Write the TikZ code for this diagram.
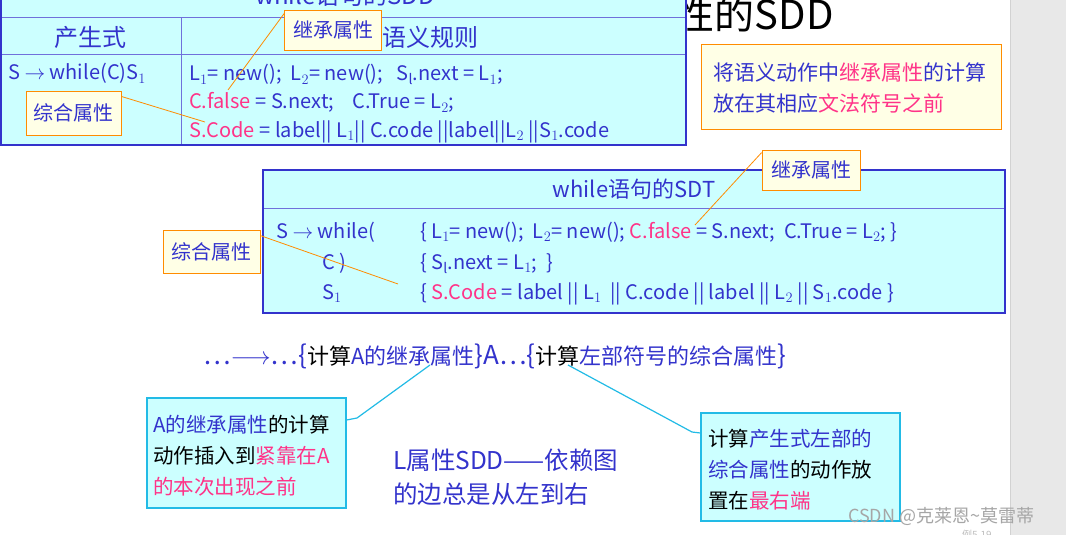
\documentclass[tikz,border=0pt]{standalone}
\usepackage{fontspec}
\setmainfont{Noto Sans CJK SC}
\begin{document}
\begin{tikzpicture}[x=1pt,y=-1pt,
  txt/.style={inner sep=0pt,anchor=base west,font=\fontsize{20}{24}\selectfont,text=tblue},
  obox/.style={draw=orange!90!yellow,fill=yel,line width=0.8pt,inner sep=0pt},
  olink/.style={draw=orange!90!yellow,line width=0.8pt},
  cbox/.style={draw=cyanb,fill=cyanf,line width=1.2pt},
  clink/.style={draw=cyanb,line width=1.2pt}]
\definecolor{tblue}{HTML}{3333CC}
\definecolor{pk}{HTML}{FF3388}
\definecolor{cyanf}{HTML}{CCFFFF}
\definecolor{cyanb}{HTML}{22BBE6}
\definecolor{yel}{HTML}{FFFFE6}
\useasboundingbox (0,0) rectangle (1066,535);
\fill[white] (0,0) rectangle (1066,535);
\fill[gray!18] (1010,0) rectangle (1066,535);
\draw[gray!35,line width=1pt] (1010,0) -- (1010,535);
% big title
\node[inner sep=0pt,anchor=base east,font=\fontsize{40}{42}\selectfont] (ttl) at (834,30) {属性的SDD};
% top table
\fill[cyanf] (0,-30) rectangle (686,145);
\draw[tblue!70,line width=1pt] (0,18) -- (686,18) (0,55) -- (686,55) (181,18) -- (181,145);
\draw[tblue,line width=2.5pt] (1,-30) -- (1,145) -- (686,145) -- (686,-30);
\node[txt,anchor=base,font=\fontsize{24}{26}\selectfont] (t1) at (345,5) {while语句的SDD};
\node[txt,anchor=base,font=\fontsize{24}{26}\selectfont] (pc) at (90,47) {产生式};
\node[txt,anchor=base,font=\fontsize{24}{26}\selectfont] (yy) at (430,47) {语义规则};
\node[txt] (r0) at (8,80) {S $\rightarrow$ while(C)S$_1$};
\node[txt] (r1) at (189,81) {L$_1$= new();\ \ L$_2$= new();\ \ \ S$_{\rm l}$.next = L$_1$;};
\node[txt] (r2) at (189,109) {\textcolor{pk}{C.false} = S.next;\ \ \ \ C.True = L$_2$;};
\node[txt] (r3) at (189,137) {\textcolor{pk}{S.Code} = label|| L$_1$|| C.code ||label||L$_2$ ||S$_1$.code};
\node[obox,minimum width=97pt,minimum height=40pt,font=\fontsize{20}{22}\selectfont,text=tblue] (jc1) at (333,30) {继承属性};
\node[obox,minimum width=95pt,minimum height=44pt,font=\fontsize{20}{22}\selectfont,text=tblue] (zh1) at (74,113) {综合属性};
\draw[olink] (jc1.north west) ++(0,4) -- (228,90);
\draw[olink] (zh1.north east) ++(0,6) -- (205,122);
% right note
\node[obox,minimum width=300pt,minimum height=85pt] (nt) at (851,86.5) {};
\node[txt,font=\fontsize{21}{24}\selectfont] (nt1) at (713,81) {将语义动作中\textcolor{pk}{继承属性}的计算};
\node[txt,font=\fontsize{21}{24}\selectfont] (nt2) at (713,111) {放在其相应\textcolor{pk}{文法符号之前}};
% SDT table
\fill[cyanf] (263,170) rectangle (1005,313);
\draw[tblue!70,line width=1pt] (263,208) -- (1005,208);
\draw[tblue,line width=2pt] (263,170) rectangle (1005,313);
\node[txt,anchor=base,font=\fontsize{22}{24}\selectfont] (st) at (634,197) {while语句的SDT};
\node[txt] (s1) at (276,238) {S $\rightarrow$ while(};
\node[txt] (s2) at (322,269) {C )};
\node[txt] (s3) at (322,299) {S$_1$};
\node[txt] (a1) at (420,238) {\{ L$_1$= new();\ \ L$_2$= new(); \textcolor{pk}{C.false} = S.next;\ \ C.True = L$_2$; \}};
\node[txt] (a2) at (420,269) {\{ S$_{\rm l}$.next = L$_1$;\ \ \}};
\node[txt] (a3) at (420,299) {\{ \textcolor{pk}{S.Code} = label || L$_1$\ \ || C.code || label || L$_2$ || S$_1$.code \}};
\node[obox,minimum width=98pt,minimum height=40pt,font=\fontsize{20}{22}\selectfont,text=tblue] (jc2) at (811,170) {继承属性};
\node[obox,minimum width=97pt,minimum height=43pt,font=\fontsize{20}{22}\selectfont,text=tblue] (zh2) at (211.5,251.5) {综合属性};
\draw[olink] (jc2.north west) ++(0,3) -- (695,225);
\draw[olink] (zh2.north east) ++(0,6) -- (398,284);
% bottom line
\node[txt,font=\fontsize{26}{28}\selectfont] (bl) at (203,364) {…$\longrightarrow$…\{\textcolor{black}{\fontsize{22}{24}\selectfont 计算}{\fontsize{22}{24}\selectfont A的继承属性}\}A…\{\textcolor{black}{\fontsize{22}{24}\selectfont 计算}{\fontsize{22}{24}\selectfont 左部符号的综合属性}\}};
\node[cbox,minimum width=199pt,minimum height=110pt] (lb) at (246.5,453) {};
\node[txt,font=\fontsize{20.5}{24}\selectfont] (l1) at (153,432) {A的继承属性\textcolor{black}{的计算}};
\node[txt,font=\fontsize{20.5}{24}\selectfont,text=black] (l2) at (153,463) {动作插入到\textcolor{pk}{紧靠在A}};
\node[txt,font=\fontsize{20.5}{24}\selectfont,text=pk] (l3) at (153,494) {的本次出现之前};
\node[cbox,minimum width=199pt,minimum height=108pt] (rb) at (800.5,467) {};
\node[txt,font=\fontsize{20.5}{24}\selectfont,text=black] (q1) at (708,446) {计算\textcolor{tblue}{产生式左部的}};
\node[txt,font=\fontsize{20.5}{24}\selectfont,text=black] (q2) at (708,477) {\textcolor{tblue}{综合属性}的动作放};
\node[txt,font=\fontsize{20.5}{24}\selectfont,text=black] (q3) at (708,508) {置在\textcolor{pk}{最右端}};
\coordinate (c1) at (430,365);
\coordinate (c2) at (568,365);
\draw[clink] (c1) -- (357,418) -- (lb.east|-0,420);
\draw[clink] (c2) -- (692,432) -- (rb.west|-0,433);
\node[txt,font=\fontsize{24.5}{27}\selectfont] (m1) at (393,469) {L属性SDD——依赖图};
\node[txt,font=\fontsize{24.5}{27}\selectfont] (m2) at (393,503) {的边总是从左到右};
\node[txt,font=\fontsize{18}{20}\selectfont,text=gray!70] (wm) at (848,522) {CSDN @克莱恩\textasciitilde 莫雷蒂};
\node[txt,font=\fontsize{10}{11}\selectfont,text=gray!50] (ex) at (962,538) {例5.19};
\end{tikzpicture}
\end{document}
